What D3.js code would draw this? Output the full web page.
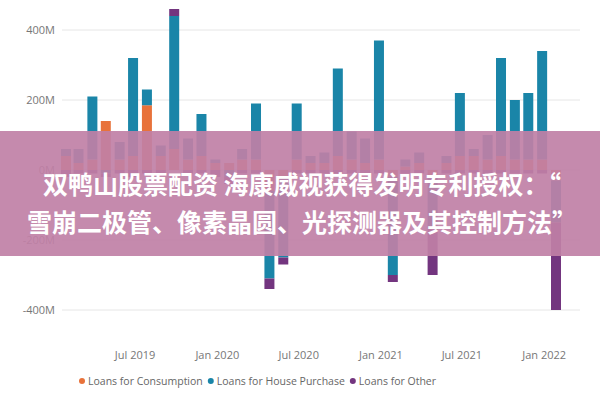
<!DOCTYPE html>
<html><head><meta charset="utf-8">
<script src="https://cdn.jsdelivr.net/npm/d3@7"></script>
<style>body{margin:0;background:#fff}</style></head>
<body><svg id="c" width="600" height="400"></svg>
<script>
// 月份与三类贷款（百万）
var months = d3.range(37).map(function(i){ return new Date(2019, 1 + i, 1); });
var consumption = [40,20,30,140,30,40,185,40,60,30,40,20,20,30,30,-60,-20,30,20,20,40,30,20,30,-20,10,20,-20,20,40,40,30,40,30,30,30,-30];
var house = [20,40,180,-10,50,280,45,30,380,60,120,10,-20,30,160,-250,-230,160,20,30,250,80,70,340,-280,20,30,-150,20,180,20,70,280,170,190,310,-120];
var other = [-20,-10,-10,-10,-10,-20,-10,-10,20,-10,-10,-20,-20,-10,-10,-30,-20,-10,-10,-10,-10,-10,-10,-10,-20,-10,-10,-130,-10,-10,-10,-10,-10,-10,-10,-10,-250];
var seriesNames = ["Loans for Consumption","Loans for House Purchase","Loans for Other"];
var colors = ["#E8723A","#1A85A8","#73357F"];
var yTicks = [400,200,0,-200,-400];
var xTicks = [new Date(2019,6,1),new Date(2020,0,1),new Date(2020,6,1),new Date(2021,0,1),new Date(2021,6,1),new Date(2022,0,1)];

var svg = d3.select("#c");
var x = d3.scaleTime().domain([new Date(2019,1,1), new Date(2022,1,1)]).range([66, 556]);
var y = d3.scaleLinear().domain([-400, 400]).range([310, 30]);

// 网格与刻度
svg.selectAll(".grid").data(yTicks).enter().append("line")
    .attr("x1", 62).attr("x2", 580)
    .attr("y1", function(d){ return y(d); }).attr("y2", function(d){ return y(d); })
    .attr("stroke", "#e6e6e6");
svg.selectAll(".yl").data(yTicks).enter().append("text")
    .attr("x", 55).attr("y", function(d){ return y(d) + 4; })
    .attr("text-anchor", "end").attr("font-family", "Open Sans").attr("font-size", 11).attr("fill", "#777")
    .text(function(d){ return d + "M"; });
svg.selectAll(".xl").data(xTicks).enter().append("text")
    .attr("x", function(d){ return x(d) + 2; }).attr("y", 359)
    .attr("text-anchor", "middle").attr("font-family", "Open Sans").attr("font-size", 11).attr("fill", "#777")
    .text(d3.timeFormat("%b %Y"));

var table = months.map(function(m, i){ return {date: m, c: consumption[i], h: house[i], o: other[i]}; });
var stack = d3.stack().keys(["c","h","o"]).offset(d3.stackOffsetDiverging)(table);

svg.selectAll(".s").data(stack).enter().append("g")
    .attr("fill", function(d, i){ return colors[i]; })
    .selectAll("rect").data(function(d){ return d; }).enter().append("rect")
    .attr("x", function(d){ return x(d.data.date) - 5; })
    .attr("width", 10)
    .attr("y", function(d){ return y(Math.max(d[0], d[1])); })
    .attr("height", function(d){ return Math.abs(y(d[0]) - y(d[1])); });

// 图例：按文字宽度依次排开
var lx = 82;
seriesNames.forEach(function(name, i){
    var g = svg.append("g").attr("transform", "translate(" + lx + ",381)");
    g.append("circle").attr("r", 3).attr("fill", colors[i]);
    var t = g.append("text").attr("x", 6).attr("y", 4).attr("font-family", "Open Sans")
        .attr("font-size", 10.5).attr("fill", "#666").text(name);
    lx += t.node().getComputedTextLength() + 14;
});

// 标题横幅
svg.append("rect").attr("x", 0).attr("y", 131).attr("width", 600).attr("height", 125)
    .attr("fill", "rgb(192,128,166)").attr("opacity", 0.92);
var lines = ["双鸭山股票配资 海康威视获得发明专利授权：“", "雪崩二极管、像素晶圆、光探测器及其控制方法”"];
svg.selectAll(".t").data(lines).enter().append("text")
    .attr("x", 302).attr("y", function(d, i){ return 194 + i * 38; })
    .attr("text-anchor", "middle").attr("font-family", "Noto Sans CJK SC").attr("font-weight", "bold")
    .attr("font-size", 25).attr("fill", "#fff")
    .text(function(d){ return d; });
</script></body></html>
